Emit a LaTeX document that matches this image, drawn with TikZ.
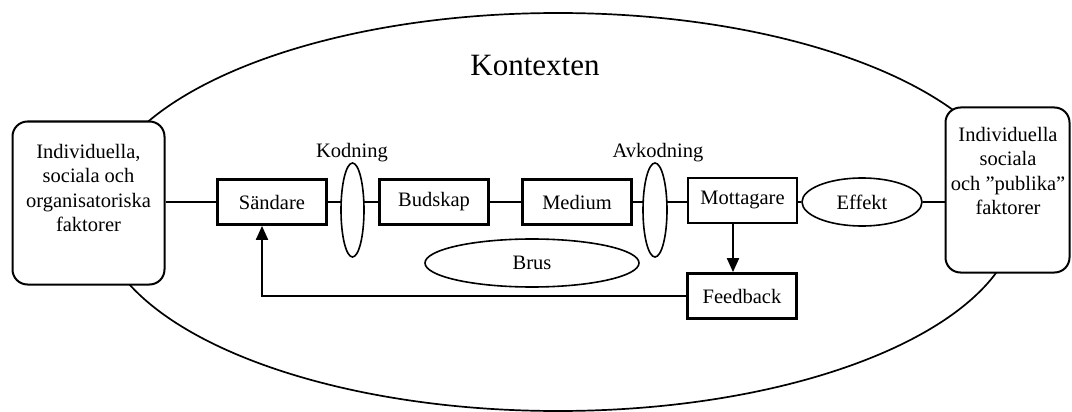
\documentclass[tikz,border=0pt]{standalone}
\usepackage{fontspec}
\setmainfont{Liberation Serif}
\usetikzlibrary{shapes.geometric,arrows.meta,backgrounds}
\begin{document}
\begin{tikzpicture}[x=1pt,y=-1pt,
  every node/.style={font=\fontsize{20.5}{24.5}\selectfont},
  blk/.style={draw, line width=2.8pt, fill=white, minimum width=109, minimum height=45, inner sep=0pt},
  side/.style={draw, line width=2pt, fill=white, rounded corners=15pt, inner sep=0pt},
  lens/.style={ellipse, draw, line width=1.6pt, fill=white, inner sep=0pt},
  oval/.style={ellipse, draw, line width=1.6pt, fill=white, inner sep=0pt},
  conn/.style={line width=2pt},
  arr/.style={line width=2pt, -{Triangle[width=12pt,length=14pt]}},
  plain/.style={align=center, inner sep=0pt}]
\useasboundingbox (0,0) rectangle (1072,412);
% context ellipse
\node[ellipse, draw, line width=1.7pt, minimum width=920, minimum height=398, inner sep=0pt] (ctx) at (558,212) {};
\node[plain, font=\fontsize{31}{36}\selectfont] (kontext) at (535,66) {Kontexten};
% side boxes
\node[side, minimum width=152, minimum height=163] (lbox) at (88.5,203) {};
\node[plain] (ltext) at (88.5,188) {Individuella,\\sociala och\\organisatoriska\\faktorer};
\node[side, minimum width=124, minimum height=165] (rbox) at (1007.5,190) {};
\node[plain] (rtext) at (1008,171) {Individuella\\sociala\\och ”publika”\\faktorer};
% chain
\node[blk] (sand) at (272,202) {Sändare};
\node[lens, minimum width=23, minimum height=94] (kod) at (352.5,210) {};
\node[plain] (kodl) at (352,153) {Kodning};
\node[blk] (bud) at (434,202) {Budskap};
\node[blk] (med) at (577,202) {Medium};
\node[lens, minimum width=24, minimum height=94] (avk) at (655,210) {};
\node[plain] (avkl) at (658,153) {Avkodning};
\node[blk] (mott) at (742.5,200.5) {Mottagare};
\node[oval, minimum width=120, minimum height=48] (eff) at (862,202) {Effekt};
\node[oval, minimum width=214, minimum height=48] (brus) at (532,263) {Brus};
\node[blk] (fb) at (742,296) {Feedback};
\coordinate (ax) at (733,0);
\coordinate (fx) at (262,0);
\begin{scope}[on background layer]
\draw[conn] (lbox.east |- sand.west) -- (sand.west);
\draw[conn] (sand.east) -- (bud.west);
\draw[conn] (bud.east) -- (med.west);
\draw[conn] (med.east) -- (mott.west |- med.east);
\draw[conn] (mott.east |- eff.west) -- (eff.west);
\draw[conn] (eff.east) -- (rbox.west |- eff.east);
\end{scope}
\draw[arr] (mott.south -| ax) -- (fb.north -| ax);
\draw[arr] (fb.west) -| (sand.south -| fx);
\end{tikzpicture}
\end{document}
